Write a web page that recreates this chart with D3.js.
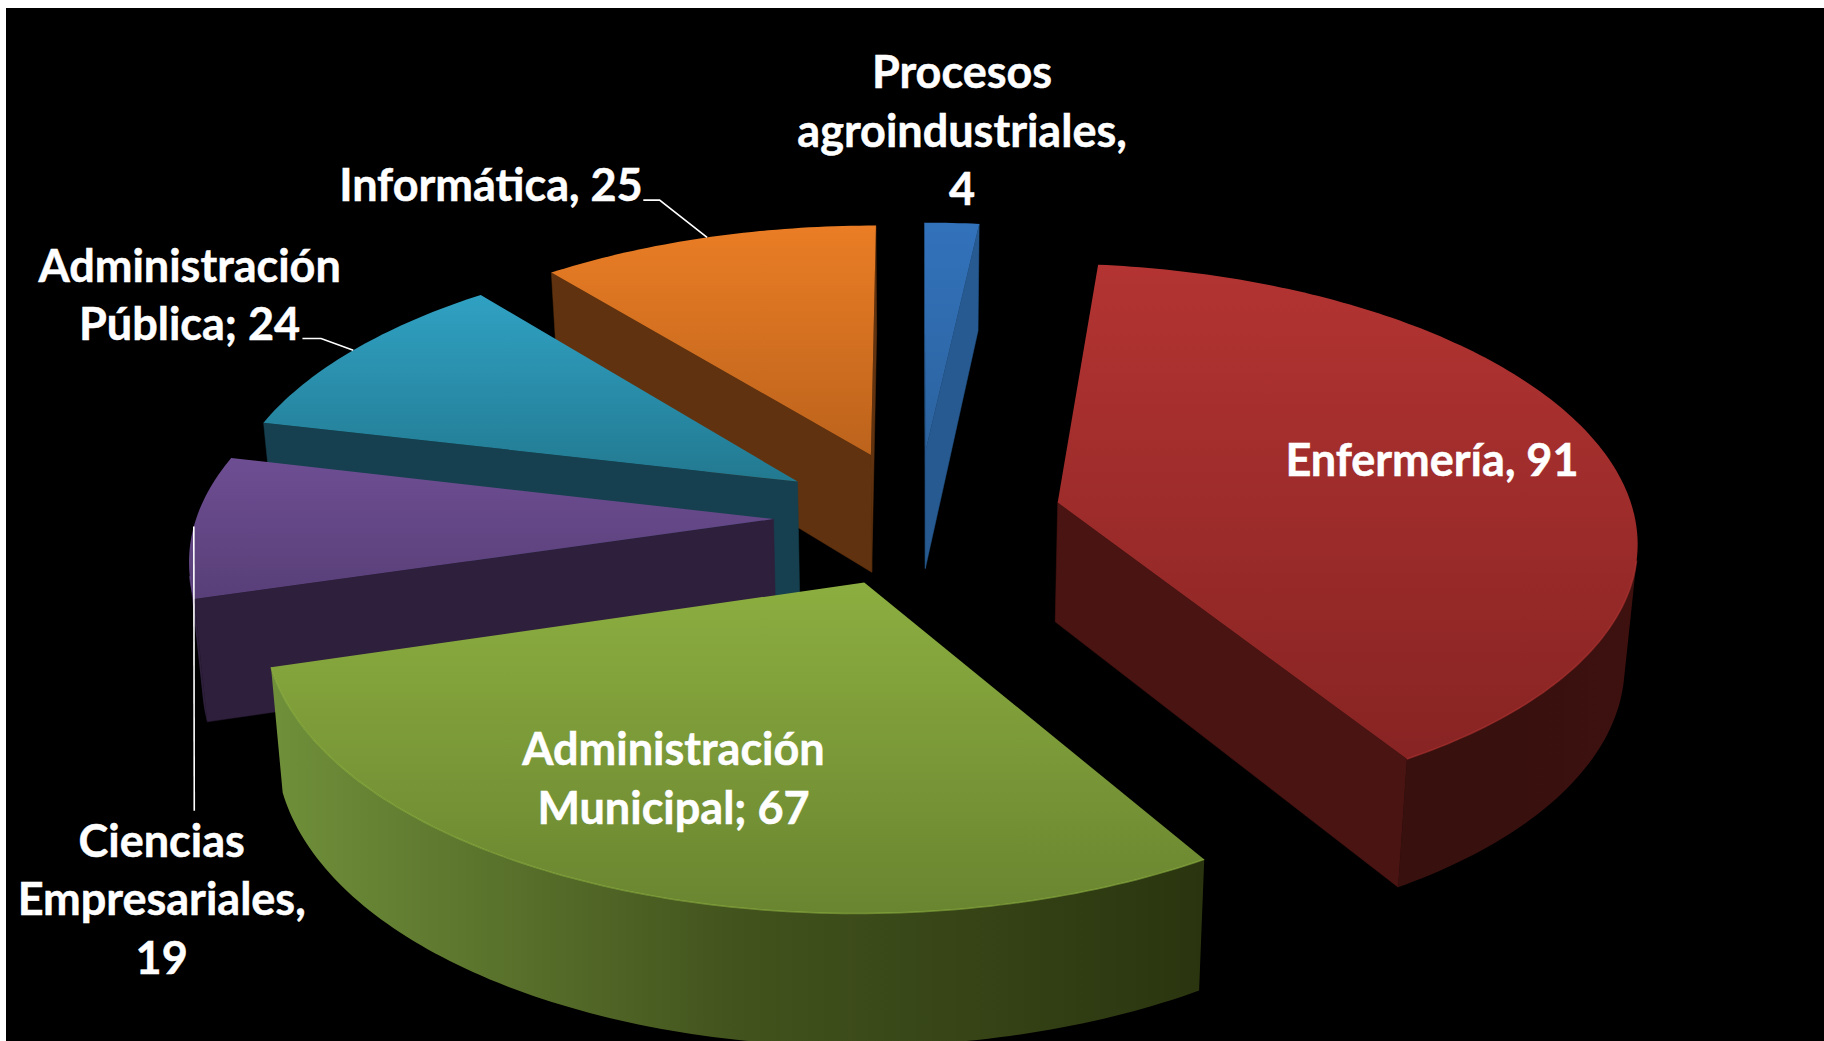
<!DOCTYPE html>
<html><head><meta charset="utf-8">
<style>html,body{margin:0;padding:0;background:#fff;overflow:hidden}svg{display:block}text{font-family:Lato,"Open Sans",sans-serif;font-weight:700;fill:#fff;stroke:#fff;stroke-width:.5px}</style>
<script src="https://cdn.jsdelivr.net/npm/d3@7"></script>
</head><body>
<script>
// ---------- data ----------
const categories = ["Procesos agroindustriales","Enfermería","Administración Municipal","Ciencias Empresariales","Administración Pública","Informática"];
const values = [4,91,67,19,24,25];
const separators = [", ",", ","; ",", ","; ",", "];
// line wrapping of the label text "category + separator + value"
const labelLines = [
  ["Procesos","agroindustriales,","4"],
  ["Enfermería, 91"],
  ["Administración","Municipal; 67"],
  ["Ciencias","Empresariales,","19"],
  ["Administración","Pública; 24"],
  ["Informática, 25"]
];
const topColours  = [["#3272bb","#2c639f"],["#b33432","#872423"],["#8cae40","#6a8530"],["#6e4e93","#583f78"],["#30a1c3","#227990"],["#ea7d25","#bc631c"]];
const wallColours = [["#275a91","#275a91","#275a91"],["#38100e","#38100e","#3e110f"],["#70903a","#42531d","#2a350f"],["#3c2852","#2e1f3c","#2e1f3c"],["#16404f","#16404f","#16404f"],["#61320f","#61320f","#61320f"]];
const faceColours = ["#275a91","#4a1412","#2a350f","#2e1f3c","#16404f","#61320f"];

// ---------- layout (reference measured in 1568-wide coordinates) ----------
const W=1824,H=1041,K=W/1568;
const view={cx:789*K,cy:444.6*K,R:496*K,T:234*K,persp:.124,explode:.25,depthA:103*K,depthB:9*K,bottomScale:.982};
const labelPos=[[827,76],[1231,409],[579,658],[139,737],[163,242],[422,173]].map(p=>[p[0]*K,p[1]*K]);
const lineGap=50*K, fontPx=45;
const leaderElbows=[null,null,null,[[167,697]],[[276,291],[260,291]],[[567,172],[553,172]]];

// ---------- projection ----------
function project(th,rho,bis,bottom){
  const X=rho*Math.sin(th)+view.explode*Math.sin(bis);
  const Y=-rho*Math.cos(th)-view.explode*Math.cos(bis);
  const s=1/(1-view.persp*Y);
  let x=view.R*X*s, y=view.T*Y*s+view.cy;
  if(bottom){x*=view.bottomScale; y+=view.depthA+view.depthB*Y;}
  return [view.cx+x,y];
}
const line=d3.line();

const svg=d3.select("body").append("svg").attr("width",W).attr("height",H);
svg.append("rect").attr("width",W).attr("height",H).attr("fill","#fff");
svg.append("rect").attr("x",6).attr("y",8).attr("width",W-6).attr("height",H-8).attr("fill","#000");
const defs=svg.append("defs");

const arcs=d3.pie().sort(null).startAngle(0).endAngle(2*Math.PI)(values);
arcs.forEach((a,i)=>{a.i=i;a.bis=(a.startAngle+a.endAngle)/2;});
const drawOrder=arcs.slice().sort((p,q)=>(-Math.cos(p.bis))-(-Math.cos(q.bis)));

drawOrder.forEach(a=>{
  const i=a.i, g=svg.append("g").attr("class","slice");
  const n=Math.max(8,Math.ceil((a.endAngle-a.startAngle)*60));
  const thetas=d3.range(n+1).map(k=>a.startAngle+(a.endAngle-a.startAngle)*k/n);
  const top=t=>project(t,1,a.bis,false), bot=t=>project(t,1,a.bis,true);
  const apexT=project(0,0,a.bis,false), apexB=project(0,0,a.bis,true);

  // radial faces (drawn when they face the viewer; d3.polygonArea is negative for clockwise-on-screen)
  [[a.startAngle,1],[a.endAngle,-1]].forEach(([t,sign])=>{
    const q=[apexT,top(t),bot(t),apexB];
    if(d3.polygonArea(q)*sign>0) g.append("path").attr("d",line(q)+"Z").attr("fill",faceColours[i]).attr("stroke",faceColours[i]).attr("stroke-width",.5);
  });

  // outer wall: front-facing runs of the arc
  const gw=defs.append("linearGradient").attr("id","w"+i);
  wallColours[i].forEach((c,k)=>gw.append("stop").attr("offset",k/2).attr("stop-color",c));
  const runs=[];let cur=null;
  d3.pairs(thetas).forEach(([t0,t1])=>{
    const q=[top(t0),top(t1),bot(t1),bot(t0)];
    if(d3.polygonArea(q)>0){ if(!cur){cur=[t0];runs.push(cur);} cur.push(t1);} else cur=null;
  });
  runs.forEach(r=>{
    const pts=r.map(top).concat(r.slice().reverse().map(bot));
    g.append("path").attr("d",line(pts)+"Z").attr("fill",`url(#w${i})`);
  });

  // top face
  const yTop=d3.extent(thetas.map(t=>top(t)[1]).concat(apexT[1]));
  const gt=defs.append("linearGradient").attr("id","t"+i).attr("gradientUnits","userSpaceOnUse")
    .attr("x1",0).attr("x2",0).attr("y1",yTop[0]).attr("y2",yTop[1]);
  topColours[i].forEach((c,k)=>gt.append("stop").attr("offset",k).attr("stop-color",c));
  g.append("path").attr("d",line([apexT].concat(thetas.map(top)))+"Z").attr("fill",`url(#t${i})`);

  // bevel highlight along the visible rim
  runs.forEach(r=>g.append("path").attr("d",line(r.map(top))).attr("fill","none")
     .attr("stroke",d3.color(topColours[i][0]).brighter(.2)).attr("stroke-opacity",.55).attr("stroke-width",1.5));
});

// leader lines
arcs.forEach(a=>{
  const el=leaderElbows[a.i]; if(!el) return;
  const pts=[project(a.bis,1,a.bis,false)].concat(el.map(p=>[p[0]*K,p[1]*K]));
  svg.append("path").attr("d",line(pts)).attr("fill","none").attr("stroke","#fff").attr("stroke-width",1.6);
});

// labels
arcs.forEach(a=>{
  const t=svg.append("text").attr("text-anchor","middle").attr("font-size",fontPx);
  labelLines[a.i].forEach((s,k)=>t.append("tspan").attr("x",labelPos[a.i][0]).attr("y",labelPos[a.i][1]+k*lineGap).text(s));
});
</script>
</body></html>
